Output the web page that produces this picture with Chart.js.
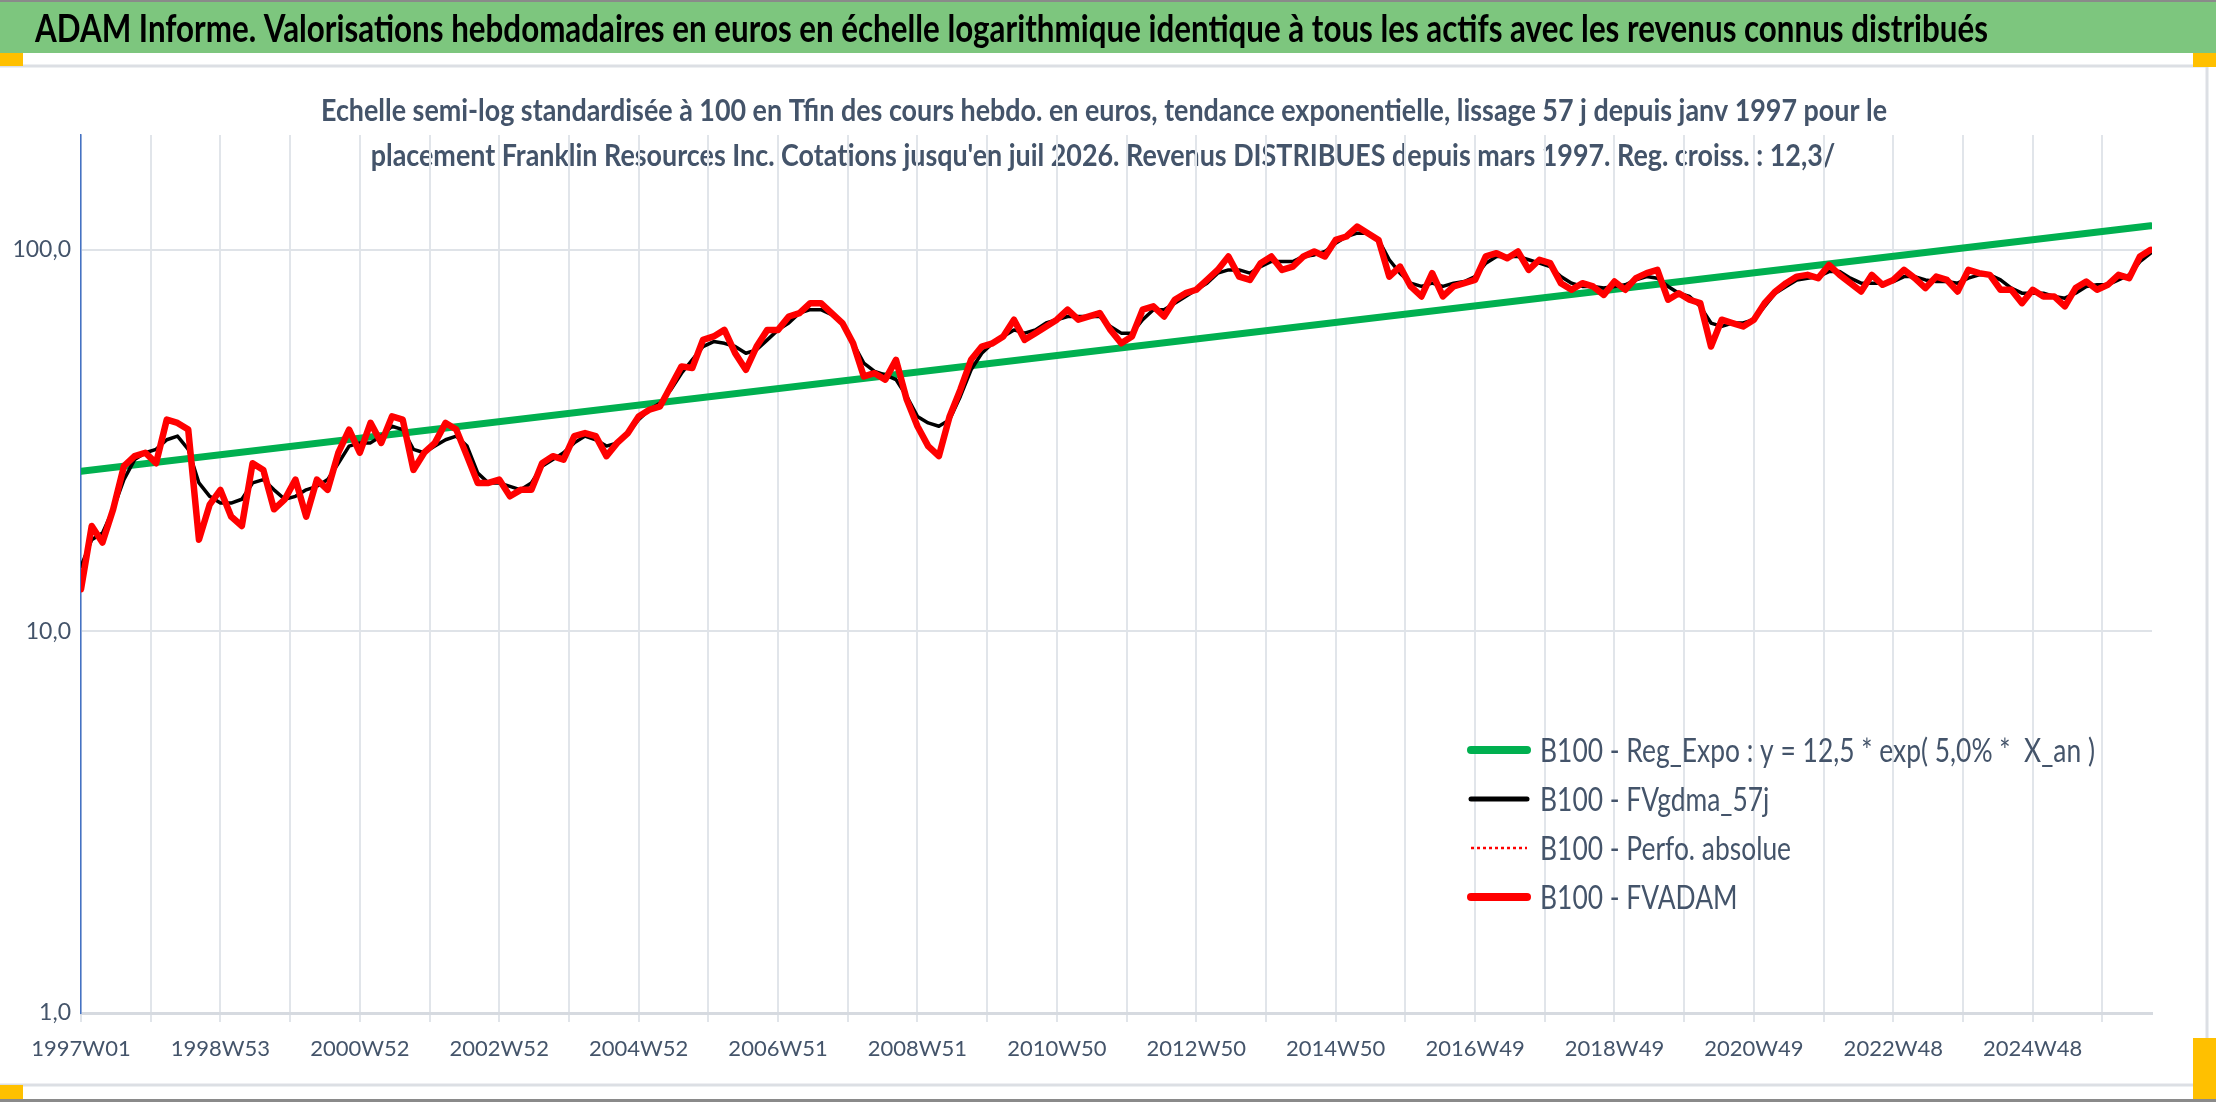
<!DOCTYPE html>
<html lang="fr">
<head>
<meta charset="utf-8">
<title>ADAM Informe - Franklin Resources Inc.</title>
<script src="https://cdn.jsdelivr.net/npm/chart.js@4.4.1/dist/chart.umd.min.js"></script>
<style>
  html, body { margin: 0; padding: 0; background: #fff; }
  #wrap { position: relative; width: 2216px; height: 1102px; overflow: hidden; }
  canvas { display: block; }
</style>
</head>
<body>
<div id="wrap"><canvas id="chart" width="2216" height="1102"></canvas></div>
<script>
// Values. x = weeks since 1997W01, one sample every 8 weeks.
const sampleStep = 8;

// x-axis labels, one every 104 weeks (gridline every 52 weeks)
const weekLabels = ['1997W01', '1998W53', '2000W52', '2002W52', '2004W52', '2006W51', '2008W51',
  '2010W50', '2012W50', '2014W50', '2016W49', '2018W49', '2020W49', '2022W48', '2024W48'];

// B100 - FVADAM (red, weekly valuation)
const fvadam = [
  12.9, 18.9, 17.1, 20.9, 27.1, 28.8, 29.4, 27.6, 35.9, 35.2,
  33.8, 17.4, 21.5, 23.5, 20.0, 18.9, 27.6, 26.5, 20.9, 22.2,
  25.0, 20.0, 25.0, 23.5, 29.4, 33.8, 29.4, 35.2, 31.2, 36.6,
  35.9, 26.5, 29.4, 31.2, 35.2, 33.8, 28.8, 24.5, 24.5, 25.0,
  22.6, 23.5, 23.5, 27.6, 28.8, 28.2, 32.5, 33.1, 32.5, 28.8,
  31.2, 33.1, 36.6, 38.1, 38.9, 43.9, 49.5, 49.0, 58.1, 59.3,
  61.7, 53.6, 48.5, 55.8, 61.7, 61.7, 66.9, 68.3, 72.5, 72.5,
  68.3, 64.3, 56.9, 46.6, 47.5, 45.7, 51.5, 40.5, 34.5,
  30.6, 28.8, 36.6, 43.0, 51.5, 55.8, 56.9, 59.3, 65.6, 58.1,
  60.5, 63.0, 65.6, 69.7, 65.6, 66.9, 68.3, 61.7, 56.9, 59.3,
  69.7, 71.1, 66.9, 74.0, 77.0, 78.6, 83.4, 88.6, 96.1, 85.1,
  83.4, 92.3, 96.1, 88.6, 90.4, 96.1, 99.0, 96.1, 106.2,
  108.4, 115.1, 110.6, 106.2, 85.1, 90.4, 80.2, 75.5, 86.9, 75.5,
  80.2, 81.8, 83.4, 96.1, 98.0, 95.1, 99.0, 88.6, 94.2, 92.3,
  81.8, 78.6, 81.8, 80.2, 76.2, 82.6, 78.6, 84.3, 86.9, 88.6,
  74.0, 77.0, 74.0, 72.5, 55.8, 65.6, 64.3, 63.0, 65.6,
  72.5, 77.8, 81.8, 85.1, 86.0, 84.3, 91.3, 86.0, 81.8, 77.8,
  86.0, 81.0, 83.4, 88.6, 84.3, 79.4, 85.1, 83.4, 77.8, 88.6,
  86.9, 86.0, 78.6, 78.6, 72.5, 78.6, 75.5, 75.5, 71.1, 79.4,
  82.6, 78.6, 81.0, 86.0, 84.3, 96.1, 100.0
];

// B100 - FVgdma_57j (black, smoothed)
const fvgdma = [
  14.8, 17.4, 18.1, 20.9, 25.0, 28.2, 29.4, 30.0, 31.8, 32.5,
  30.0, 24.5, 22.6, 21.7, 21.7, 22.2, 24.5, 25.0, 23.5, 22.2,
  22.6, 23.5, 24.0, 25.0, 27.6, 30.6, 31.2, 31.2, 32.5, 34.5,
  33.8, 30.0, 29.4, 30.6, 31.8, 32.5, 30.6, 26.0, 24.5, 24.5,
  24.0, 23.5, 24.5, 27.1, 28.2, 29.4, 31.2, 32.5, 31.8, 30.6,
  31.2, 33.1, 35.9, 38.1, 39.7, 43.0, 47.5, 51.5, 55.8, 57.5,
  56.9, 55.8, 53.6, 54.7, 58.1, 61.7, 64.3, 68.3, 69.7, 69.7,
  67.6, 64.3, 56.9, 50.5, 48.0, 47.0, 45.7, 41.3, 36.6,
  35.2, 34.5, 35.9, 41.3, 48.5, 53.6, 56.9, 59.3, 61.7, 60.5,
  61.7, 64.3, 65.6, 66.9, 66.9, 66.9, 66.9, 63.0, 60.5, 60.5,
  65.6, 69.7, 69.7, 72.5, 75.5, 78.6, 81.8, 86.9, 88.6, 88.6,
  86.9, 90.4, 93.2, 93.2, 93.2, 96.1, 97.0, 99.0, 104.1,
  108.4, 110.6, 110.6, 106.2, 94.2, 86.9, 81.8, 80.2, 81.8, 80.2,
  81.8, 82.6, 85.1, 92.3, 96.1, 96.1, 96.1, 94.2, 92.3, 90.4,
  85.1, 81.8, 80.2, 80.2, 79.4, 80.2, 81.0, 83.4, 85.1, 84.3,
  80.2, 77.0, 75.5, 71.1, 64.3, 63.0, 64.3, 64.3, 65.6,
  71.1, 77.0, 80.2, 83.4, 84.3, 85.1, 87.7, 87.7, 84.3, 81.8,
  81.8, 81.8, 82.6, 85.1, 85.1, 83.4, 82.6, 82.6, 81.8, 84.3,
  86.0, 86.0, 83.4, 79.4, 77.0, 77.0, 77.0, 75.5, 74.7, 77.0,
  80.2, 81.0, 81.0, 83.4, 86.0, 93.2, 98.0
];

// B100 - Perfo. absolue: lies under the FVADAM line in the picture
const perfoAbsolue = fvadam.slice();

// B100 - Reg_Expo: straight on the log scale, start and end values
const regWeeks = [0, 1544];
const regExpo = [26.3, 115.6];

const TITLE = 'ADAM Informe. Valorisations hebdomadaires en euros en échelle logarithmique identique à tous les actifs avec les revenus connus distribués';
const SUBTITLE = [
  'Echelle semi-log standardisée à 100 en Tfin des cours hebdo. en euros, tendance exponentielle, lissage 57 j depuis janv 1997 pour le',
  "placement Franklin Resources Inc. Cotations jusqu'en juil 2026. Revenus DISTRIBUES depuis mars 1997. Reg. croiss. : 12,3/"
];

const SLATE = '#44546a';
const FONT = 'Lato, "Open Sans", "Liberation Sans", sans-serif';

// gridline every 52 weeks
const gridWeeks = [];
for (let w = 0; w <= 1508; w += 52) gridWeeks.push(w);

const toPoints = (arr) => arr.map((v, i) => ({ x: i * sampleStep, y: v }));
const isDecade = (v) => Math.abs(Math.log10(v) - Math.round(Math.log10(v))) < 1e-9;

// draw text squeezed/stretched horizontally by k
function fitText(ctx, text, x, y, k, align) {
  ctx.save();
  ctx.translate(x, y);
  ctx.scale(k, 1);
  ctx.textAlign = align;
  ctx.fillText(text, 0, 0);
  ctx.restore();
}

const frame = {
  id: 'frame',
  beforeDraw(chart) {
    const ctx = chart.ctx;
    const W = chart.width;
    ctx.save();
    ctx.fillStyle = '#fff';
    ctx.fillRect(0, 0, W, chart.height);

    // header band
    ctx.fillStyle = '#7dc67e';
    ctx.fillRect(0, 0, W, 53);
    ctx.fillStyle = '#8a8a8a';
    ctx.fillRect(0, 0, W, 2);
    ctx.fillStyle = '#000';
    ctx.font = 'bold 38px ' + FONT;
    ctx.textBaseline = 'middle';
    fitText(ctx, TITLE, 35, 30, 1953 / ctx.measureText(TITLE).width, 'left');

    // card border and corner marks
    ctx.strokeStyle = '#dcdfe4';
    ctx.lineWidth = 3;
    ctx.strokeRect(-3, 66, 2210, 1019);
    ctx.fillStyle = '#8a8a8a';
    ctx.fillRect(0, 1099, W, 3);
    ctx.fillStyle = '#ffc000';
    ctx.fillRect(0, 53, 23, 13);
    ctx.fillRect(2193, 53, 23, 14);
    ctx.fillRect(0, 1085, 23, 14);
    ctx.fillRect(2193, 1038, 23, 61);

    // subtitle
    ctx.fillStyle = SLATE;
    ctx.font = 'bold 31px ' + FONT;
    const k = 1566 / ctx.measureText(SUBTITLE[0]).width;
    fitText(ctx, SUBTITLE[0], 1104, 111, k, 'center');
    fitText(ctx, SUBTITLE[1], 1103, 156, k, 'center');
    ctx.restore();
  },
  afterDraw(chart) {
    // legend in Excel series order
    const ctx = chart.ctx;
    const order = [3, 2, 1, 0];
    const rows = [750, 799, 848, 897];
    ctx.save();
    ctx.font = '33px ' + FONT;
    ctx.textBaseline = 'middle';
    ctx.fillStyle = SLATE;
    const first = chart.data.datasets[order[0]].label;
    const k = 555 / ctx.measureText(first).width;
    order.forEach((di, r) => {
      const ds = chart.data.datasets[di];
      const y = rows[r];
      ctx.save();
      ctx.strokeStyle = ds.borderColor;
      ctx.lineWidth = ds.legendWidth;
      ctx.lineCap = ds.borderDash ? 'butt' : 'round';
      ctx.setLineDash(ds.borderDash || []);
      ctx.beginPath();
      ctx.moveTo(1471, y);
      ctx.lineTo(1527, y);
      ctx.stroke();
      ctx.restore();
      fitText(ctx, ds.label, 1540, y + 1, k, 'left');
    });
    ctx.restore();
  }
};

new Chart(document.getElementById('chart'), {
  type: 'line',
  data: {
    datasets: [
      { label: 'B100 - FVADAM', data: toPoints(fvadam), borderColor: '#ff0000', borderWidth: 6.5, legendWidth: 8, order: 1 },
      { label: 'B100 - Perfo. absolue', data: toPoints(perfoAbsolue), borderColor: '#ff0000', borderWidth: 2, borderDash: [3, 3], legendWidth: 2.5, order: 2 },
      { label: 'B100 - FVgdma_57j', data: toPoints(fvgdma), borderColor: '#000000', borderWidth: 3.5, legendWidth: 5, order: 3 },
      { label: 'B100 - Reg_Expo : y = 12,5 * exp( 5,0% *  X_an )',
        data: regWeeks.map((w, i) => ({ x: w, y: regExpo[i] })), borderColor: '#00b050', borderWidth: 7, legendWidth: 8, order: 4 }
    ]
  },
  options: {
    responsive: false,
    animation: false,
    devicePixelRatio: 1,
    layout: { padding: { top: 135, right: 64, left: 0, bottom: 0 } },
    elements: {
      point: { radius: 0 },
      line: { tension: 0, borderCapStyle: 'round', borderJoinStyle: 'round' }
    },
    plugins: { legend: { display: false }, tooltip: { enabled: false } },
    scales: {
      x: {
        type: 'linear',
        min: 0,
        max: 1545,
        afterBuildTicks: (axis) => { axis.ticks = gridWeeks.map((v) => ({ value: v })); },
        afterFit: (axis) => { axis.height = 89; },
        grid: { color: '#e1e5ea', lineWidth: 2, tickLength: 9 },
        border: { color: '#d6dae0', width: 3 },
        ticks: {
          autoSkip: false,
          maxRotation: 0,
          padding: 14,
          color: SLATE,
          font: { family: FONT, size: 22 },
          callback: (v, i) => (i % 2 === 0 ? weekLabels[i / 2] : '')
        }
      },
      y: {
        type: 'logarithmic',
        min: 1,
        max: 200,
        afterFit: (axis) => { axis.width = 81; },
        grid: {
          color: (c) => (c.tick && isDecade(c.tick.value) ? '#dfe3e8' : 'rgba(0,0,0,0)'),
          lineWidth: 2,
          drawTicks: false
        },
        border: { color: '#4472c4', width: 1.5 },
        ticks: {
          padding: 10,
          color: SLATE,
          font: { family: FONT, size: 23 },
          callback: (v) => (isDecade(v) ? v.toFixed(1).replace('.', ',') : null)
        }
      }
    }
  },
  plugins: [frame]
});
</script>
</body>
</html>
